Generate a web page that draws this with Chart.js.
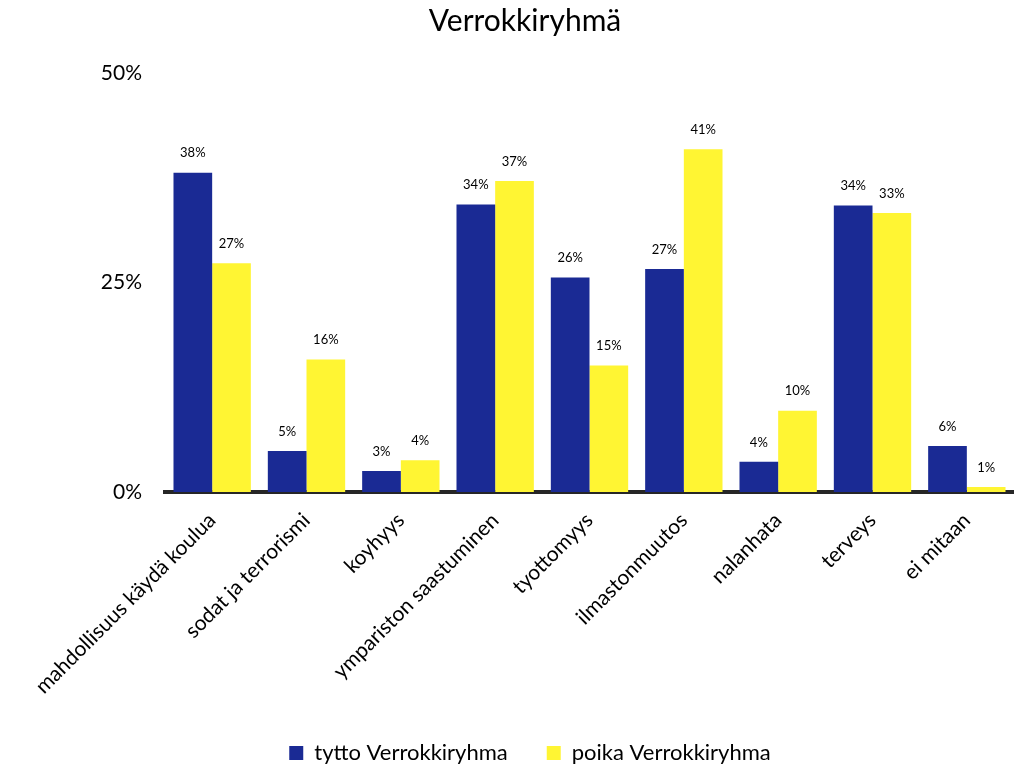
<!DOCTYPE html>
<html>
<head>
<meta charset="utf-8">
<script src="https://cdn.jsdelivr.net/npm/chart.js@4/dist/chart.umd.min.js"></script>
<style>
  html, body { margin: 0; padding: 0; background: #fff; }
  #wrap { width: 1014px; height: 765px; position: relative; }
</style>
</head>
<body>
<div id="wrap"><canvas id="c" width="1014" height="765"></canvas></div>
<script>
const chartTitle = "Verrokkiryhmä";
const categories = ["mahdollisuus käydä koulua", "sodat ja terrorismi", "koyhyys", "ympariston saastuminen", "tyottomyys", "ilmastonmuutos", "nalanhata", "terveys", "ei mitaan"];
const seriesNames = ["tytto Verrokkiryhma", "poika Verrokkiryhma"];
const tyttoValues = [38.1, 4.9, 2.5, 34.3, 25.6, 26.6, 3.6, 34.2, 5.5];
const poikaValues = [27.3, 15.8, 3.8, 37.1, 15.1, 40.9, 9.7, 33.3, 0.6];
const yTicks = [0, 25, 50];

const FONT = "Lato, 'Open Sans', 'Liberation Sans', sans-serif";

const valueLabels = {
  id: 'valueLabels',
  afterDatasetsDraw(chart) {
    const ctx = chart.ctx;
    ctx.save();
    ctx.font = "13px " + FONT;
    ctx.fillStyle = "#000";
    ctx.textAlign = "center";
    ctx.textBaseline = "bottom";
    chart.data.datasets.forEach((ds, i) => {
      const meta = chart.getDatasetMeta(i);
      meta.data.forEach((el, j) => {
        ctx.fillText(Math.round(ds.data[j]) + "%", el.x, el.y - 13);
      });
    });
    ctx.restore();
  }
};

const titlePlugin = {
  id: 'titlePlugin',
  afterDraw(chart) {
    const ctx = chart.ctx;
    ctx.save();
    ctx.font = "30px " + FONT;
    ctx.fillStyle = "#000";
    ctx.textAlign = "center";
    ctx.textBaseline = "middle";
    ctx.fillText(chartTitle, 525, 21);
    ctx.restore();
  }
};

const legendShift = {
  id: 'legendShift',
  beforeDraw(chart) {
    if (chart.legend) {
      chart.legend.left += 23;
      chart.legend.right += 23;
    }
  }
};

new Chart(document.getElementById('c'), {
  type: 'bar',
  data: {
    labels: categories,
    datasets: [
      { label: seriesNames[0], data: tyttoValues, backgroundColor: '#1A2A94', borderWidth: 0 },
      { label: seriesNames[1], data: poikaValues, backgroundColor: '#FFF533', borderWidth: 0 }
    ]
  },
  options: {
    responsive: false,
    animation: false,
    layout: { padding: { top: 73, left: 0, right: 0, bottom: -9 } },
    plugins: {
      title: { display: false },
      tooltip: { enabled: false },
      legend: {
        display: true,
        position: 'bottom',
        labels: {
          font: { family: FONT, size: 22 },
          color: '#000',
          boxWidth: 14,
          boxHeight: 14,
          padding: 39
        }
      }
    },
    datasets: { bar: { categoryPercentage: 0.82, barPercentage: 1.0 } },
    scales: {
      x: {
        grid: { display: false, drawTicks: false },
        border: { display: true, color: '#262626', width: 4 },
        ticks: {
          font: { family: FONT, size: 21 },
          color: '#000',
          minRotation: 45,
          maxRotation: 45,
          padding: 16,
          autoSkip: false
        },
        afterFit(scale) { scale.height = 211; }
      },
      y: {
        min: 0,
        max: 50,
        grid: { display: false, drawTicks: false },
        border: { display: false },
        afterBuildTicks(scale) { scale.ticks = yTicks.map(v => ({ value: v })); },
        ticks: {
          font: { family: FONT, size: 21 },
          color: '#000',
          padding: 23,
          callback: v => v + '%'
        },
        afterFit(scale) { scale.width = 165; }
      }
    }
  },
  plugins: [valueLabels, titlePlugin, legendShift]
});
</script>
</body>
</html>
